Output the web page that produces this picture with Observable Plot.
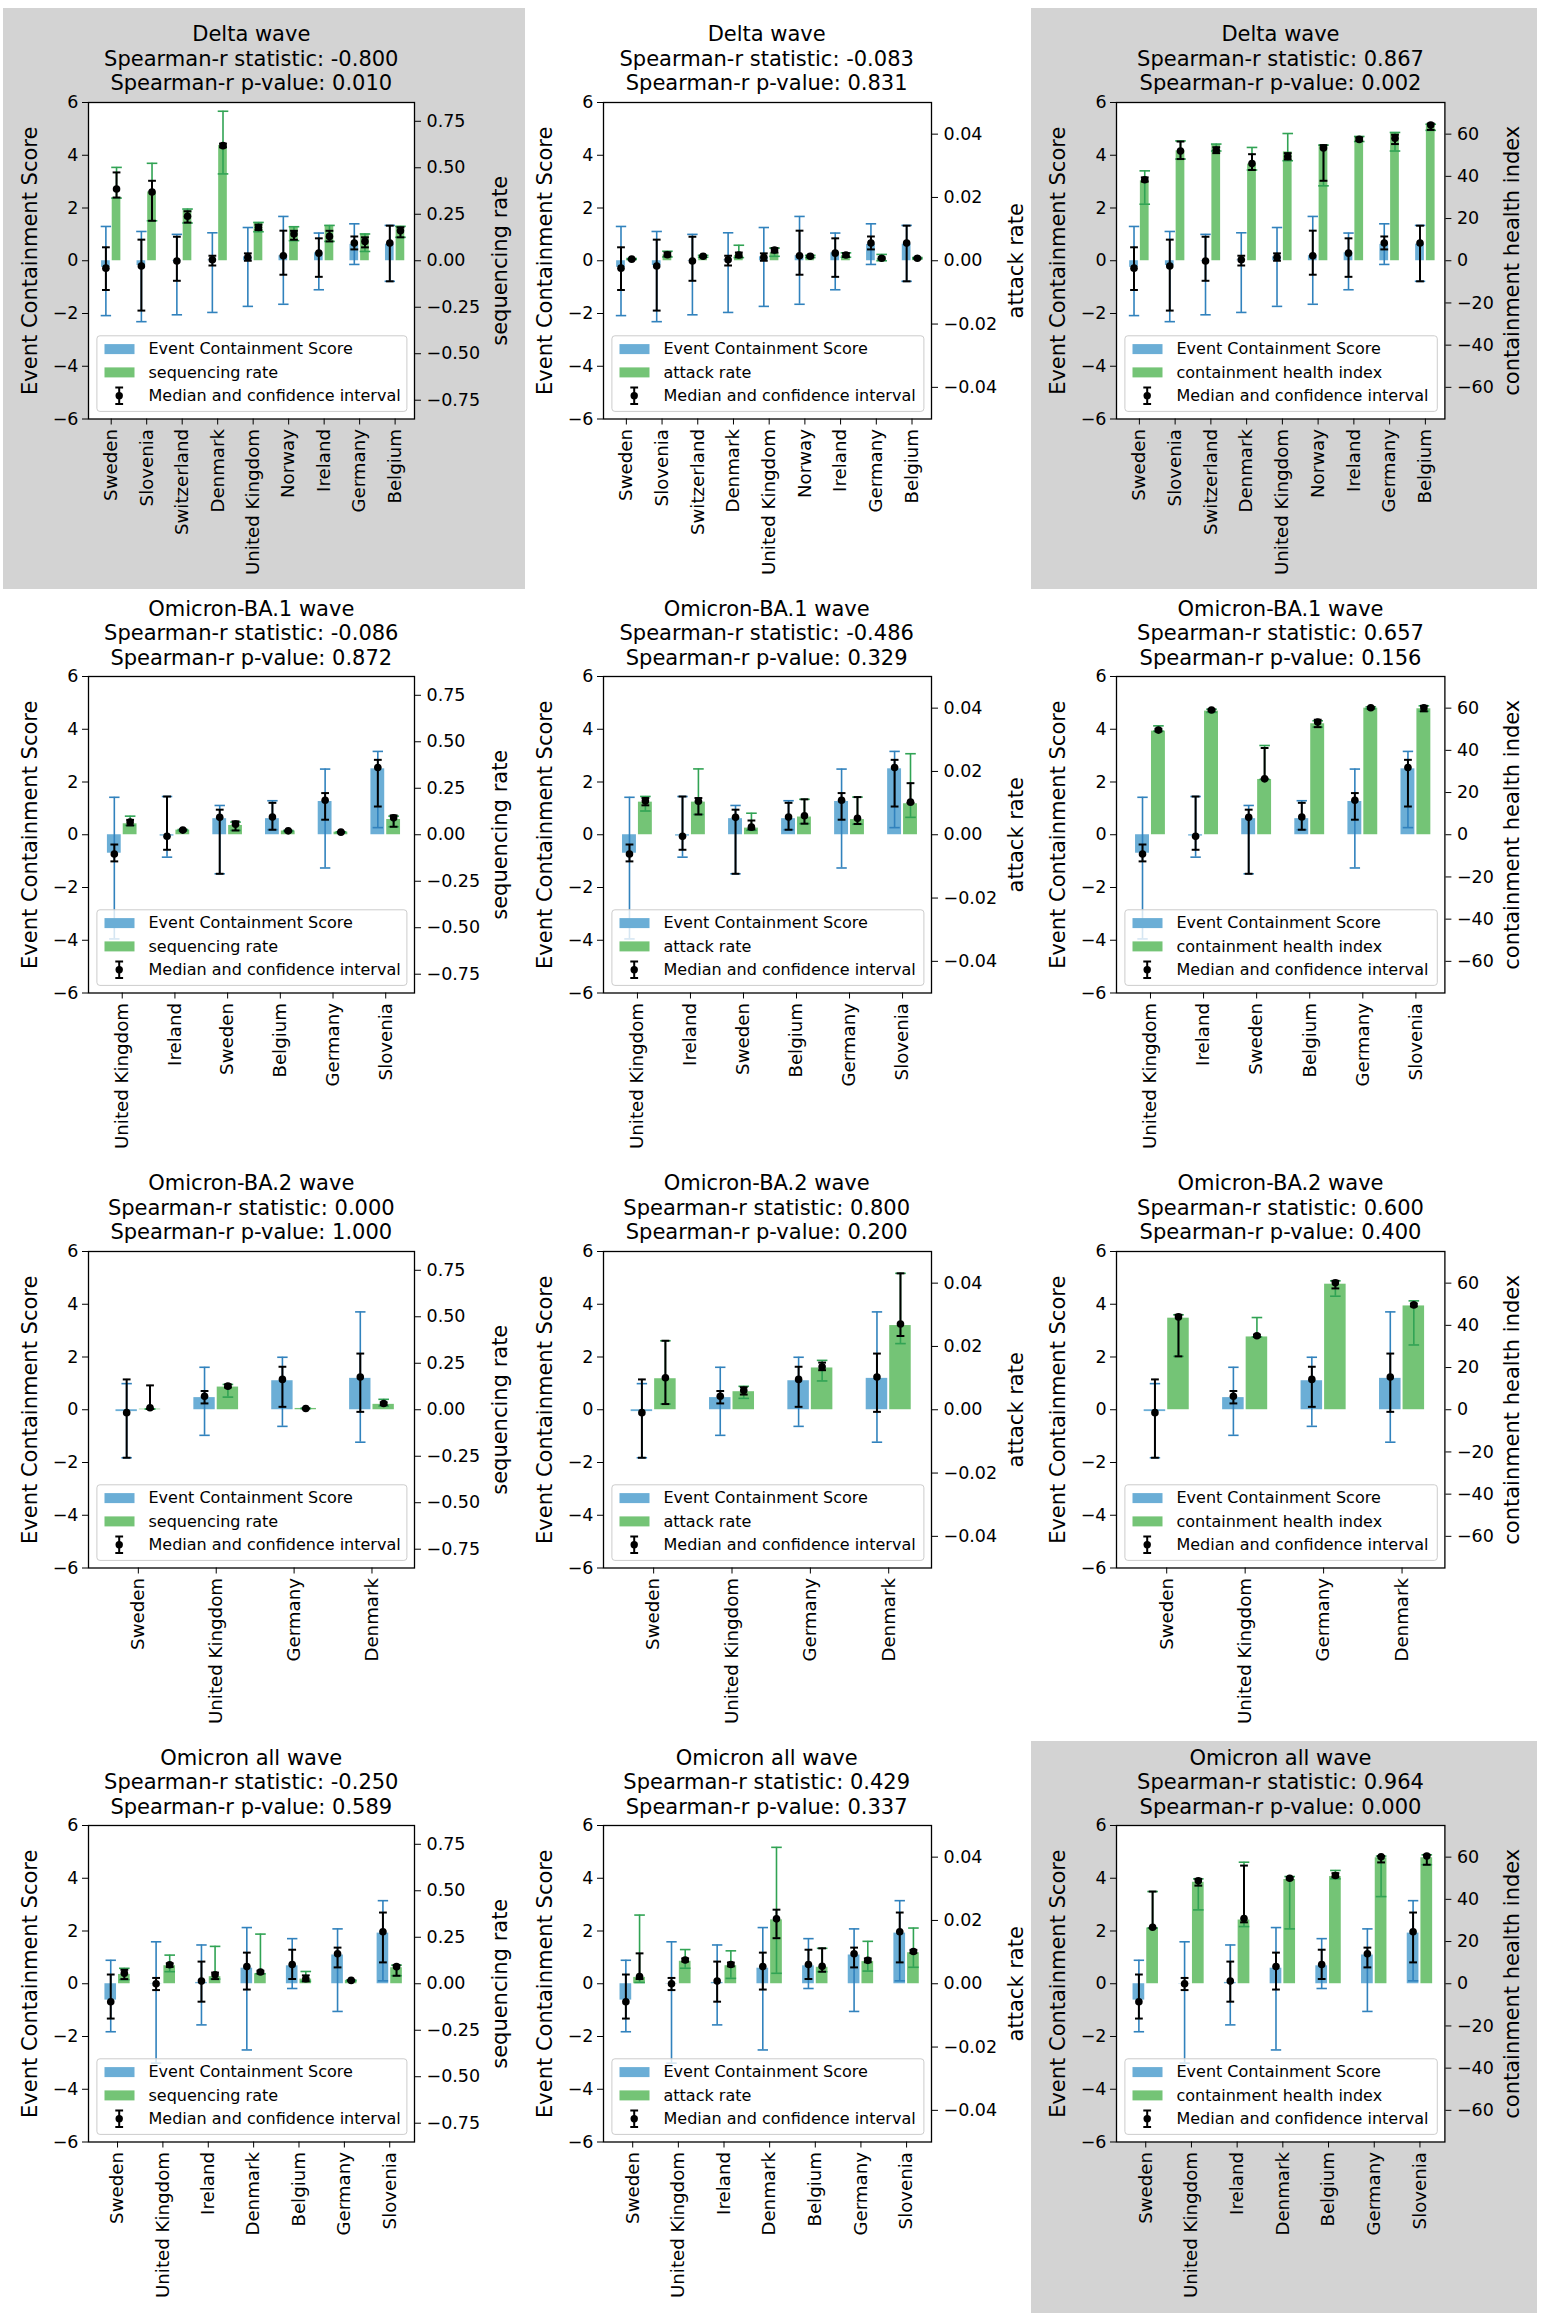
<!DOCTYPE html>
<html><head><meta charset="utf-8">
<script src="https://cdn.jsdelivr.net/npm/d3@7"></script>
<script src="https://cdn.jsdelivr.net/npm/@observablehq/plot@0.6"></script>
<style>
body{margin:0;background:#fff;font-family:"DejaVu Sans",sans-serif;}
#page{position:relative;width:1544px;height:2317px;overflow:hidden;background:#fff;}
.bg{position:absolute;background:#d3d3d3;}
.title{position:absolute;text-align:center;font-size:21px;line-height:24.6px;color:#000;white-space:nowrap;font-family:"DejaVu Sans",sans-serif;}
.chart{position:absolute;}
</style></head><body><div id="page"></div>
<script>
// ---------------- data ----------------
// each row: [bar, errLow, errHigh, median, medianLow, medianHigh]
const waveNames = ["Delta wave", "Omicron-BA.1 wave", "Omicron-BA.2 wave", "Omicron all wave"];

const deltaCountries = ["Sweden","Slovenia","Switzerland","Denmark","United Kingdom","Norway","Ireland","Germany","Belgium"];
const deltaECS = [[-0.25,-2.08,1.30,-0.28,-1.11,0.51],[-0.18,-2.31,1.11,-0.20,-1.89,0.80],[-0.02,-2.05,1.00,-0.01,-0.76,0.91],[0.03,-1.96,1.06,0.04,-0.18,0.19],[0.15,-1.73,1.26,0.13,0.00,0.28],[0.19,-1.65,1.68,0.19,-0.53,1.14],[0.30,-1.10,1.05,0.29,-0.61,0.85],[0.62,-0.14,1.40,0.67,0.43,0.92],[0.63,-0.78,1.34,0.67,-0.78,1.33]];
const deltaSeq = [[0.337,0.337,0.502,0.386,0.34,0.475],[0.37,0.215,0.524,0.37,0.215,0.43],[0.27,0.203,0.278,0.239,0.205,0.266],[0.62,0.467,0.804,0.619,0.61,0.63],[0.206,0.156,0.206,0.179,0.165,0.194],[0.183,0.108,0.183,0.144,0.113,0.161],[0.19,0.104,0.19,0.131,0.104,0.161],[0.144,0.05,0.144,0.104,0.072,0.126],[0.185,0.126,0.185,0.161,0.126,0.18]];
const deltaAttack = [[0.0005,0.0004,0.0007,0.0005,0.0004,0.0006],[0.0019,0.0012,0.0030,0.0019,0.0014,0.0026],[0.0014,0.0011,0.0017,0.0014,0.0012,0.0016],[0.0017,0.0010,0.0049,0.0018,0.0011,0.0026],[0.0025,0.0014,0.0040,0.0034,0.0026,0.0040],[0.0014,0.0010,0.0017,0.0014,0.0011,0.0016],[0.0017,0.0011,0.0025,0.0018,0.0012,0.0024],[0.0008,0.0000,0.0020,0.0008,0.0005,0.0011],[0.0008,0.0006,0.0010,0.0008,0.0006,0.0010]];
const deltaCHI = [[37.9,26.8,42.6,38.4,37.5,39.5],[52.1,48.2,56.8,52.0,48.2,56.5],[55.0,52.0,55.3,52.4,51.0,53.8],[45.8,43.0,53.7,46.1,43.0,50.5],[51.6,47.4,60.3,49.4,48.0,51.0],[54.8,35.5,54.8,53.4,37.9,54.8],[58.9,56.5,58.9,57.5,56.8,58.4],[60.8,52.0,60.8,58.1,55.3,59.7],[64.7,61.8,64.7,64.3,62.0,65.0]];
const deltaStats = [[-0.800,0.010],[-0.083,0.831],[0.867,0.002]];

const ba1Countries = ["United Kingdom","Ireland","Sweden","Belgium","Germany","Slovenia"];
const ba1ECS = [[-0.70,-3.95,1.42,-0.73,-1.01,-0.37],[-0.05,-0.85,1.45,-0.06,-0.57,1.45],[0.61,-1.48,1.11,0.66,-1.48,0.95],[0.61,0.19,1.29,0.67,0.19,1.21],[1.26,-1.26,2.49,1.31,0.57,1.58],[2.50,0.27,3.16,2.55,1.07,2.84]];
const ba1Seq = [[0.059,0.05,0.10,0.068,0.05,0.08],[0.025,0.022,0.028,0.025,0.022,0.028],[0.05,0.023,0.068,0.057,0.023,0.072],[0.02,0.018,0.023,0.021,0.018,0.023],[0.014,0.012,0.016,0.014,0.012,0.016],[0.082,0.043,0.10,0.091,0.043,0.104]];
const ba1Attack = [[0.0103,0.0075,0.0121,0.0107,0.0093,0.0116],[0.0103,0.0064,0.0208,0.0106,0.0064,0.0116],[0.0021,0.0014,0.0068,0.0024,0.0017,0.0045],[0.0056,0.0035,0.0112,0.0060,0.0035,0.0112],[0.0048,0.0033,0.0119,0.0052,0.0034,0.0119],[0.0098,0.0055,0.0256,0.0103,0.0101,0.0163]];
const ba1CHI = [[49.1,49.1,51.6,49.6,49.0,50.2],[58.6,58.0,59.5,59.1,58.6,59.5],[26.2,26.2,42.3,26.5,26.5,41.1],[52.6,51.0,54.0,53.4,51.0,54.5],[60.0,59.7,60.6,60.2,59.8,60.6],[59.7,58.5,61.1,60.2,58.5,61.1]];
const ba1Stats = [[-0.086,0.872],[-0.486,0.329],[0.657,0.156]];

const ba2Countries = ["Sweden","United Kingdom","Germany","Denmark"];
const ba2ECS = [[-0.07,-1.82,0.99,-0.11,-1.82,1.15],[0.46,-0.97,1.61,0.51,0.24,0.71],[1.10,-0.63,1.99,1.15,0.11,1.63],[1.19,-1.23,3.71,1.24,-0.08,2.13]];
const ba2Seq = [[0.003,0.003,0.005,0.011,0.005,0.131],[0.122,0.068,0.136,0.127,0.12,0.136],[0.007,0.006,0.008,0.007,0.006,0.008],[0.029,0.02,0.056,0.034,0.025,0.04]];
const ba2Attack = [[0.0098,0.0018,0.0218,0.0101,0.0018,0.0218],[0.0057,0.0036,0.0074,0.0061,0.0048,0.0071],[0.0132,0.0091,0.0156,0.0136,0.0125,0.0149],[0.0266,0.0209,0.0431,0.0271,0.0233,0.0431]];
const ba2CHI = [[43.4,25.3,45.0,44.0,25.3,45.0],[34.5,34.5,43.7,35.1,34.6,35.6],[59.5,53.8,61.1,60.2,57.5,61.1],[49.2,30.7,51.6,49.7,49.0,50.3]];
const ba2Stats = [[0.000,1.000],[0.800,0.200],[0.600,0.400]];

const allCountries = ["Sweden","United Kingdom","Ireland","Denmark","Belgium","Germany","Slovenia"];
const allECS = [[-0.62,-1.82,0.89,-0.68,-1.32,0.35],[-0.01,-3.01,1.59,0.00,-0.24,0.22],[0.05,-1.56,1.47,0.10,-0.68,0.84],[0.59,-2.51,2.13,0.65,-0.22,1.18],[0.68,-0.18,1.71,0.73,0.18,1.29],[1.09,-1.05,2.08,1.14,0.62,1.37],[1.92,0.11,3.15,1.97,0.81,2.70]];
const allSeq = [[0.05,0.022,0.083,0.057,0.025,0.075],[0.097,0.065,0.154,0.102,0.09,0.11],[0.038,0.025,0.201,0.048,0.025,0.06],[0.054,0.054,0.267,0.063,0.055,0.07],[0.025,0.013,0.066,0.027,0.013,0.045],[0.017,0.015,0.02,0.018,0.015,0.02],[0.086,0.043,0.10,0.092,0.043,0.10]];
const allAttack = [[0.0020,0.0004,0.0217,0.0023,0.0015,0.0096],[0.0071,0.0049,0.0108,0.0075,0.0070,0.0080],[0.0057,0.0017,0.0104,0.0061,0.0055,0.0067],[0.0202,0.0033,0.0431,0.0205,0.0144,0.0234],[0.0052,0.0038,0.0112,0.0055,0.0038,0.0112],[0.0070,0.0040,0.0134,0.0074,0.0068,0.0080],[0.0098,0.0052,0.0176,0.0102,0.0097,0.0107]];
const allCHI = [[26.4,26.4,43.7,26.8,26.4,43.7],[48.1,35.0,49.7,48.8,46.5,49.7],[30.2,27.1,57.6,30.9,29.1,56.0],[49.4,26.0,50.8,50.0,49.5,50.5],[50.8,49.7,53.7,51.3,50.5,52.4],[59.7,41.3,60.5,60.2,57.5,60.5],[59.7,56.4,61.1,60.5,56.4,61.1]];
const allStats = [[-0.250,0.589],[0.429,0.337],[0.964,0.000]];

const leftTicks = [-6,-4,-2,0,2,4,6];
const seqTicks = [-0.75,-0.5,-0.25,0,0.25,0.5,0.75];
const attackTicks = [-0.04,-0.02,0,0.02,0.04];
const chiTicks = [-60,-40,-20,0,20,40,60];
const metricLabels = ["sequencing rate","attack rate","containment health index"];
const legendLabels = ["Event Containment Score","Median and confidence interval"];

// ---------------- assembly ----------------
const rowsData = [
  {countries: deltaCountries, ecs: deltaECS, sec: [deltaSeq, deltaAttack, deltaCHI], stats: deltaStats},
  {countries: ba1Countries, ecs: ba1ECS, sec: [ba1Seq, ba1Attack, ba1CHI], stats: ba1Stats},
  {countries: ba2Countries, ecs: ba2ECS, sec: [ba2Seq, ba2Attack, ba2CHI], stats: ba2Stats},
  {countries: allCountries, ecs: allECS, sec: [allSeq, allAttack, allCHI], stats: allStats}
];
const minus = "\u2212";
const metrics = [
  {max: 0.851, ticks: seqTicks, fmt: v => (v < -1e-9 ? minus : "") + Math.abs(v).toFixed(2), labelDx: 86, bgRight: 111},
  {max: 0.05, ticks: attackTicks, fmt: v => (v < -1e-9 ? minus : "") + Math.abs(v).toFixed(2), labelDx: 85, bgRight: 103},
  {max: 75, ticks: chiTicks, fmt: v => (v < -1e-9 ? minus : "") + Math.abs(Math.round(v)), labelDx: 67, bgRight: 92}
];

const BLUE = "#6baed6", GREEN = "#74c476", BLUE_ERR = "#3182bd", GREEN_ERR = "#31a354";
const colLeft = [88.3, 602.7, 1116.3], colWidth = [326, 328, 328.4];
const rowTop = [101.7, 676, 1250.7, 1825], plotH = 316.5;
const bgTopOff = [94, 89, 89, 84];
const mL = 90, mR = 115, mT = 12, mB = 175;

const cap = {draw(ctx, size) { const r = Math.sqrt(size / Math.PI); ctx.moveTo(-r, 0); ctx.lineTo(r, 0); }};
const errIcon = {draw(ctx, size) { const r = Math.sqrt(size / Math.PI), c = 3.9; ctx.moveTo(0, -r); ctx.lineTo(0, r); ctx.moveTo(-c, -r); ctx.lineTo(c, -r); ctx.moveTo(-c, r); ctx.lineTo(c, r); }};

function errMarks(rows, color, strokeWidth, capR) {
  return [
    Plot.ruleX(rows, {x: "x", y1: "lo", y2: "hi", stroke: color, strokeWidth}),
    Plot.dot(rows, {x: "x", y: "lo", symbol: cap, r: capR, stroke: color, strokeWidth, fill: "none"}),
    Plot.dot(rows, {x: "x", y: "hi", symbol: cap, r: capR, stroke: color, strokeWidth, fill: "none"})
  ];
}

const page = document.getElementById("page");

rowsData.forEach((R, ri) => {
  metrics.forEach((M, ci) => {
    const pw = colWidth[ci], px = colLeft[ci], py = rowTop[ri];
    const n = R.countries.length;
    const k = 6 / M.max;
    const secVals = R.sec[ci];
    const ecsRows = R.ecs.map((d, i) => ({x: i - 0.15, bar: d[0], lo: d[1], hi: d[2], med: d[3], mlo: d[4], mhi: d[5]}));
    const secRows = secVals.map((d, i) => ({x: i + 0.15, bar: d[0] * k, lo: d[1] * k, hi: d[2] * k, med: d[3] * k, mlo: d[4] * k, mhi: d[5] * k}));
    const blackRows = ecsRows.concat(secRows).map(d => ({x: d.x, med: d.med, lo: d.mlo, hi: d.mhi}));
    const [stat, pval] = R.stats[ci];

    if (pval < 0.05) {
      const bg = document.createElement("div");
      bg.className = "bg";
      const top = py - bgTopOff[ri], bottom = py + plotH + 171;
      bg.style.left = (px - 85) + "px";
      bg.style.top = top + "px";
      bg.style.width = (pw + 85 + M.bgRight) + "px";
      bg.style.height = (bottom - top) + "px";
      page.appendChild(bg);
    }

    const title = document.createElement("div");
    title.className = "title";
    title.style.left = px + "px";
    title.style.width = pw + "px";
    title.style.top = (py - 79.5) + "px";
    title.innerHTML = `${waveNames[ri]}<br>Spearman-r statistic: ${stat.toFixed(3)}<br>Spearman-r p-value: ${pval.toFixed(3)}`;
    page.appendChild(title);

    const lt = 233.3, ly = [13.3, 36.6, 59.9];
    const chart = Plot.plot({
      width: mL + pw + mR,
      height: mT + plotH + mB,
      marginLeft: mL, marginRight: mR, marginTop: mT, marginBottom: mB,
      x: {type: "linear", domain: [-0.64, n - 1 + 0.546]},
      y: {domain: [-6, 6]},
      style: {fontFamily: "DejaVu Sans", fontSize: "17.5px", background: "transparent", overflow: "visible", maxWidth: "none", color: "black"},
      marks: [
        Plot.frame({fill: "white", stroke: "none"}),
        Plot.rect(ecsRows, {x1: d => d.x - 0.15, x2: d => d.x + 0.15, y1: () => 0, y2: "bar", fill: BLUE, insetLeft: 1, insetRight: 1}),
        Plot.rect(secRows, {x1: d => d.x - 0.15, x2: d => d.x + 0.15, y1: () => 0, y2: "bar", fill: GREEN, insetLeft: 1, insetRight: 1}),
        ...errMarks(ecsRows, BLUE_ERR, 1.6, 5.2),
        ...errMarks(secRows, GREEN_ERR, 1.6, 5.3),
        ...errMarks(blackRows, "black", 2, 3.9),
        Plot.dot(blackRows, {x: "x", y: "med", r: 3.8, fill: "black", stroke: "none"}),
        // axes
        Plot.axisY(leftTicks, {anchor: "left", tickFormat: v => (v < 0 ? minus : "") + Math.abs(v), tickSize: 6, tickPadding: 4, label: null}),
        Plot.axisY(M.ticks.map(v => v * k), {anchor: "right", tickFormat: d => M.fmt(d / k), tickSize: 6, tickPadding: 6, label: null}),
        Plot.axisX(d3.range(n), {anchor: "bottom", tickFormat: i => R.countries[i], tickRotate: -90, tickSize: 6, tickPadding: 4, label: null, fontSize: 18.2}),
        Plot.text([legendLabels[0]], {text: d => d, frameAnchor: "left", dx: -58, rotate: -90, fontSize: 21, textAnchor: "middle", lineAnchor: "middle"}),
        Plot.text([metricLabels[ci]], {text: d => d, frameAnchor: "right", dx: M.labelDx, rotate: -90, fontSize: 21, textAnchor: "middle", lineAnchor: "middle"}),
        // legend
        Plot.frame({insetLeft: 8.4, insetRight: 7.6, insetTop: lt, insetBottom: plotH - lt - 75.6, fill: "white", fillOpacity: 0.8, stroke: "#cccccc", strokeWidth: 1, rx: 3}),
        Plot.frame({insetLeft: 16, insetRight: pw - 46, insetTop: lt + ly[0] - 5, insetBottom: plotH - (lt + ly[0] + 5), fill: BLUE, stroke: "none"}),
        Plot.frame({insetLeft: 16, insetRight: pw - 46, insetTop: lt + ly[1] - 5, insetBottom: plotH - (lt + ly[1] + 5), fill: GREEN, stroke: "none"}),
        Plot.dot([0], {frameAnchor: "top-left", dx: 30.7, dy: lt + ly[2], symbol: errIcon, r: 8.3, stroke: "black", strokeWidth: 2, fill: "none"}),
        Plot.dot([0], {frameAnchor: "top-left", dx: 30.7, dy: lt + ly[2], r: 3.7, fill: "black", stroke: "none"}),
        Plot.text([legendLabels[0]], {text: d => d, frameAnchor: "top-left", dx: 60, dy: lt + ly[0], textAnchor: "start", lineAnchor: "middle", fontSize: 16}),
        Plot.text([metricLabels[ci]], {text: d => d, frameAnchor: "top-left", dx: 60, dy: lt + ly[1], textAnchor: "start", lineAnchor: "middle", fontSize: 16}),
        Plot.text([legendLabels[1]], {text: d => d, frameAnchor: "top-left", dx: 60, dy: lt + ly[2], textAnchor: "start", lineAnchor: "middle", fontSize: 16}),
        Plot.frame({stroke: "black", strokeWidth: 1.3})
      ]
    });
    chart.classList.add("chart");
    chart.style.position = "absolute";
    chart.style.left = (px - mL) + "px";
    chart.style.top = (py - mT) + "px";
    page.appendChild(chart);
  });
});
</script></body></html>
